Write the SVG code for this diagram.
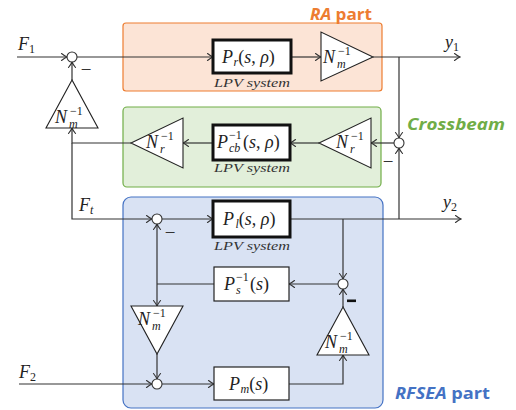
<svg xmlns="http://www.w3.org/2000/svg" width="516" height="410" viewBox="0 0 516 410">
<style>
.ln{fill:none;stroke:#333;stroke-width:1.2}
.ar{marker-end:url(#a)}
.sum{fill:#fff;stroke:#333;stroke-width:1.1}
.tri{fill:#fff;stroke:#222;stroke-width:1.1}
.bk{fill:#fff;stroke:#111;stroke-width:3}
.bt{fill:#fff;stroke:#222;stroke-width:1.2}
.m{font-family:"Liberation Serif",serif;font-size:18px;fill:#222}
.i{font-style:italic}
.sb{font-size:12px}
.lpv{font-family:"Liberation Serif",serif;font-size:12.5px;font-style:italic;fill:#333;text-anchor:middle}
.tag{font-family:"Open Sans","Noto Sans",sans-serif;font-size:16px;font-weight:bold}
.mn{font-family:"Liberation Serif",serif;font-size:19px;fill:#333;text-anchor:middle}
</style>
<defs>
<marker id="a" viewBox="-7 -5 8 10" markerWidth="8" markerHeight="10" refX="0" refY="0" orient="auto" markerUnits="userSpaceOnUse">
<path d="M-5.5,-3.5 Q-2,-0.8 0,0 Q-2,0.8 -5.5,3.5" fill="none" stroke="#333" stroke-width="1.1" stroke-linecap="round"/>
</marker>
</defs>

<g id="regions">
<rect id="ra-part" x="123" y="23" width="259" height="68" rx="3" fill="#FCE4D6" stroke="#ED7D31" stroke-width="1.2"/>
<rect id="crossbeam-part" x="123" y="107" width="258" height="80" rx="4" fill="#E2EFDA" stroke="#70AD47" stroke-width="1.2"/>
<rect id="rfsea-part" x="123" y="197" width="260" height="211" rx="8" fill="#D9E2F3" stroke="#4472C4" stroke-width="1.2"/>
<text class="tag" x="310" y="19.5" fill="#ED7D31" textLength="62" lengthAdjust="spacingAndGlyphs"><tspan font-style="italic">RA</tspan> part</text>
<text class="tag" x="407" y="130" fill="#70AD47" font-style="italic" textLength="98" lengthAdjust="spacingAndGlyphs">Crossbeam</text>
<text class="tag" x="395" y="399" fill="#4472C4" textLength="95" lengthAdjust="spacingAndGlyphs"><tspan font-style="italic">RFSEA</tspan> part</text>
</g>

<g id="connectors">
<path class="ln ar" d="M17 57H67"/>
<path class="ln ar" d="M77 57H213"/>
<path class="ln ar" d="M291 57H321"/>
<path class="ln ar" d="M373 57H460"/>
<path class="ln ar" d="M399 57V138"/>
<path class="ln ar" d="M399 219V148"/>
<path class="ln ar" d="M394 143H371"/>
<path class="ln ar" d="M319 143H290"/>
<path class="ln ar" d="M213 143H183"/>
<path class="ln ar" d="M131 143H72V128"/>
<path class="ln ar" d="M72 80V62"/>
<path class="ln ar" d="M72 143V219H152"/>
<path class="ln ar" d="M162 219H213"/>
<path class="ln ar" d="M290 219H461"/>
<path class="ln ar" d="M343 219V279"/>
<path class="ln ar" d="M338 284H289"/>
<path class="ln" d="M214 284H157"/>
<path class="ln ar" d="M157 284V224"/>
<path class="ln ar" d="M157 284V306"/>
<path class="ln ar" d="M157 354V379"/>
<path class="ln ar" d="M19 384H152"/>
<path class="ln ar" d="M162 384H214"/>
<path class="ln ar" d="M289 384H343V355"/>
<path class="ln ar" d="M343 307V289"/>
</g>

<g id="sum-f1"><circle class="sum" cx="72" cy="57" r="5"/><text class="mn" x="86" y="76">−</text></g>
<g id="sum-crossbeam"><circle class="sum" cx="399" cy="143" r="5"/><text class="mn" x="388" y="168">−</text></g>
<g id="sum-ft"><circle class="sum" cx="157" cy="219" r="5"/><text class="mn" x="170" y="239">−</text></g>
<g id="sum-ps"><circle class="sum" cx="343" cy="284" r="5"/><rect x="347" y="299.5" width="9" height="2.6" fill="#111"/></g>
<g id="sum-f2"><circle class="sum" cx="157" cy="384" r="5"/></g>

<g id="Pr">
<rect class="bk" x="213" y="40" width="78" height="33"/>
<text class="m" x="222" y="63"><tspan class="i">P</tspan><tspan class="i sb" dx="0.5" dy="3">r</tspan><tspan dy="-3">(</tspan><tspan class="i">s</tspan>, <tspan class="i">ρ</tspan>)</text>
<text class="lpv" x="252" y="87" textLength="76" lengthAdjust="spacingAndGlyphs">LPV system</text>
</g>
<g id="Pcb">
<rect class="bk" x="213" y="125" width="77" height="35"/>
<text class="m" x="217" y="148"><tspan class="i">P</tspan><tspan class="i sb" x="229" y="152">cb</tspan><tspan class="sb" x="229" y="139">−1</tspan><tspan x="243" y="148">(</tspan><tspan class="i">s</tspan>, <tspan class="i">ρ</tspan>)</text>
<text class="lpv" x="252" y="172" textLength="76" lengthAdjust="spacingAndGlyphs">LPV system</text>
</g>
<g id="Pl">
<rect class="bk" x="213" y="201" width="77" height="36"/>
<text class="m" x="223" y="225"><tspan class="i">P</tspan><tspan class="i sb" dx="1.5" dy="3">l</tspan><tspan dy="-3">(</tspan><tspan class="i">s</tspan>, <tspan class="i">ρ</tspan>)</text>
<text class="lpv" x="252" y="250" textLength="76" lengthAdjust="spacingAndGlyphs">LPV system</text>
</g>
<g id="Ps">
<rect class="bt" x="214" y="267" width="75" height="34"/>
<text class="m" x="224" y="290"><tspan class="i">P</tspan><tspan class="i sb" x="236" y="294">s</tspan><tspan class="sb" x="236" y="281">−1</tspan><tspan x="250" y="290">(</tspan><tspan class="i">s</tspan>)</text>
</g>
<g id="Pm">
<rect class="bt" x="214" y="367" width="75" height="33"/>
<text class="m" x="229" y="390"><tspan class="i">P</tspan><tspan class="i sb" dx="0.5" dy="3">m</tspan><tspan dy="-3">(</tspan><tspan class="i">s</tspan>)</text>
</g>

<g id="Nm-top">
<polygon class="tri" points="321,32 321,81 373,57"/>
<text class="m" x="323" y="63"><tspan class="i">N</tspan><tspan class="i sb" x="337" y="68">m</tspan><tspan class="sb" x="338" y="55">−1</tspan></text>
</g>
<g id="Nm-left">
<polygon class="tri" points="72,80 46,128 98,128"/>
<text class="m" x="55" y="123"><tspan class="i">N</tspan><tspan class="i sb" x="69" y="128">m</tspan><tspan class="sb" x="70" y="115">−1</tspan></text>
</g>
<g id="Nr-right">
<polygon class="tri" points="371,118 371,168 319,143"/>
<text class="m" x="336" y="148"><tspan class="i">N</tspan><tspan class="i sb" x="350" y="153">r</tspan><tspan class="sb" x="351" y="140">−1</tspan></text>
</g>
<g id="Nr-left">
<polygon class="tri" points="183,118 183,168 131,143"/>
<text class="m" x="146" y="148"><tspan class="i">N</tspan><tspan class="i sb" x="160" y="153">r</tspan><tspan class="sb" x="161" y="140">−1</tspan></text>
</g>
<g id="Nm-lower-left">
<polygon class="tri" points="131,306 183,306 157,354"/>
<text class="m" x="138" y="325"><tspan class="i">N</tspan><tspan class="i sb" x="152" y="330">m</tspan><tspan class="sb" x="153" y="317">−1</tspan></text>
</g>
<g id="Nm-lower-right">
<polygon class="tri" points="343,307 317,355 369,355"/>
<text class="m" x="325" y="348"><tspan class="i">N</tspan><tspan class="i sb" x="339" y="353">m</tspan><tspan class="sb" x="340" y="340">−1</tspan></text>
</g>

<g id="io-labels">
<text class="m" x="18" y="50"><tspan class="i">F</tspan><tspan class="sb" dy="3">1</tspan></text>
<text class="m" x="445" y="48"><tspan class="i">y</tspan><tspan class="sb" dy="3">1</tspan></text>
<text class="m" x="79" y="211"><tspan class="i">F</tspan><tspan class="i sb" dy="3">t</tspan></text>
<text class="m" x="443" y="208"><tspan class="i">y</tspan><tspan class="sb" dy="3">2</tspan></text>
<text class="m" x="19" y="378"><tspan class="i">F</tspan><tspan class="sb" dy="3">2</tspan></text>
</g>
</svg>
